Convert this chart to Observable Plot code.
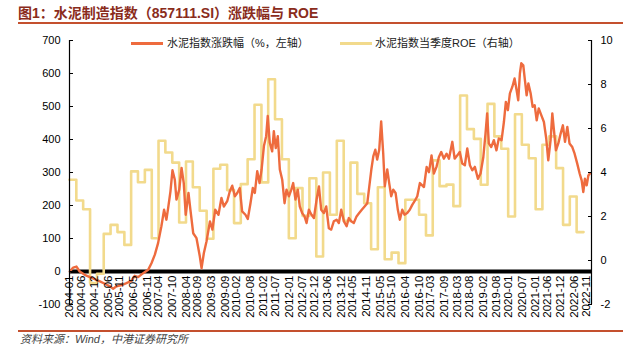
<!DOCTYPE html>
<html>
<head>
<meta charset="utf-8">
<script src="https://cdn.jsdelivr.net/npm/d3@7"></script>
<script src="https://cdn.jsdelivr.net/npm/@observablehq/plot@0.6"></script>
<style>
  body { margin: 0; background: #fff; }
  #wrap { position: relative; width: 629px; height: 354px; overflow: hidden;
          font-family: "Liberation Sans", "Noto Sans CJK SC", sans-serif; }
  #wrap svg { position: absolute; left: 0; top: 0; }
  .title { position: absolute; left: 18px; top: 4px; font-size: 14px; font-weight: bold;
           color: #8a2c1c; white-space: nowrap; line-height: 18px; }
  .rule { position: absolute; left: 18px; width: 605px; height: 1.5px; background: #c4502e; }
  .source { position: absolute; left: 20px; top: 332px; font-size: 11px; font-style: italic;
            color: #444; white-space: nowrap; line-height: 14px; }
  .legend { position: absolute; top: 36px; font-size: 11px; color: #222; white-space: nowrap; line-height: 14px; }
  .sw { position: absolute; height: 3px; width: 32px; }
</style>
</head>
<body>
<div id="wrap">
  <div class="title">图1：水泥制造指数（857111.SI）涨跌幅与 ROE</div>
  <div class="rule" style="top:22px"></div>
  <div class="rule" style="top:330px"></div>
  <div class="source">资料来源：Wind，中港证券研究所</div>
</div>
<script>
// x-axis tick labels (category labels of the original chart)
const tickLabels = ["2004-01","2004-06","2004-12","2005-06","2005-11","2006-05","2006-11","2007-04","2007-10","2008-04","2008-09","2009-03","2009-09","2010-02","2010-08","2011-02","2011-07","2012-01","2012-07","2012-12","2013-06","2013-12","2014-05","2014-11","2015-05","2015-10","2016-04","2016-10","2017-03","2017-09","2018-03","2018-08","2019-02","2019-08","2020-01","2020-07","2021-01","2021-06","2021-12","2022-06","2022-11"];

// left axis ticks (%) and right axis ticks (ROE)
const leftTicks = [-100, 0, 100, 200, 300, 400, 500, 600, 700];
const rightTicks = [-2, 0, 2, 4, 6, 8, 10];

// series names
const seriesNames = ["水泥指数涨跌幅（%，左轴）", "水泥指数当季度ROE（右轴）"];

// cement index cumulative change, % (left axis)
const cementChange = [
["2004-01-05",0],["2004-02-19",12],["2004-04-03",15],["2004-05-16",0],["2004-07-22",-10],["2004-09-28",-17],["2004-12-03",-23],
["2005-02-09",-30],["2005-04-15",-37],["2005-06-20",-45],["2005-08-05",-52],["2005-09-18",-45],["2005-11-24",-41],
["2006-01-29",-35],["2006-04-05",-28],["2006-05-18",-13],["2006-07-03",-17],["2006-09-09",-5],["2006-11-14",5],["2006-12-28",25],
["2007-02-11",51],["2007-03-26",86],["2007-05-09",137],["2007-06-14",187],["2007-07-15",157],["2007-08-07",192],["2007-09-07",243],["2007-10-04",307],["2007-11-04",278],["2007-11-26",218],
["2008-01-02",248],["2008-02-02",314],["2008-03-02",268],["2008-03-28",172],["2008-05-04",238],["2008-05-30",187],["2008-07-06",116],["2008-08-19",101],["2008-10-02",46],["2008-10-25",10],["2008-11-25",56],["2008-12-30",91],
["2009-02-14",152],["2009-03-19",127],["2009-04-25",187],["2009-06-08",172],["2009-07-17",223],["2009-08-18",197],["2009-10-02",213],["2009-11-06",243],["2009-12-08",260],
["2010-01-12",228],["2010-02-13",238],["2010-03-18",253],["2010-04-19",182],["2010-06-02",172],["2010-07-03",159],["2010-08-08",207],["2010-09-08",253],["2010-10-05",238],["2010-11-06",304],["2010-12-07",268],
["2011-01-03",309],["2011-02-03",380],["2011-03-05",410],["2011-03-26",471],["2011-04-22",390],["2011-05-24",364],["2011-06-15",425],["2011-07-11",374],["2011-08-07",410],["2011-09-03",309],["2011-10-05",278],["2011-11-05",207],["2011-12-01",248],
["2012-01-02",228],["2012-02-03",248],["2012-02-28",268],["2012-03-29",218],["2012-04-29",248],["2012-05-26",197],["2012-06-27",177],["2012-07-28",167],["2012-08-24",147],["2012-09-24",187],["2012-10-29",172],["2012-11-30",162],
["2013-01-05",218],["2013-02-05",258],["2013-03-07",187],["2013-04-11",177],["2013-05-13",197],["2013-06-17",131],["2013-07-18",127],["2013-08-22",152],["2013-09-28",157],["2013-10-28",147],["2013-11-29",187],
["2014-01-04",152],["2014-02-09",137],["2014-03-10",162],["2014-04-11",152],["2014-05-15",147],["2014-06-21",167],["2014-07-26",177],["2014-08-30",187],["2014-10-06",197],["2014-11-11",207],["2014-12-08",258],
["2015-01-04",309],["2015-01-30",349],["2015-02-26",369],["2015-03-23",339],["2015-04-19",369],["2015-05-15",455],["2015-06-11",359],["2015-07-02",258],["2015-08-04",309],["2015-08-30",268],["2015-09-26",228],["2015-10-23",248],["2015-11-23",238],["2015-12-23",187],
["2016-01-19",157],["2016-02-20",187],["2016-03-21",172],["2016-04-26",177],["2016-05-30",187],["2016-07-02",202],["2016-08-02",213],["2016-09-07",228],["2016-10-12",268],["2016-12-05",256],
["2017-01-10",317],["2017-02-10",301],["2017-03-16",352],["2017-04-16",297],["2017-05-21",317],["2017-06-22",347],["2017-07-23",362],["2017-08-27",342],["2017-10-03",357],["2017-11-03",342],["2017-12-18",393],
["2018-01-18",342],["2018-02-23",352],["2018-03-27",362],["2018-04-29",327],["2018-06-03",322],["2018-07-05",373],["2018-08-09",322],["2018-09-10",307],["2018-10-14",317],["2018-11-24",281],["2018-12-29",297],
["2019-02-04",347],["2019-03-05",418],["2019-03-27",479],["2019-04-18",388],["2019-05-20",377],["2019-06-24",398],["2019-07-29",367],["2019-08-29",403],["2019-10-05",398],["2019-11-05",453],["2019-12-01",514],["2019-12-28",489],
["2020-01-24",540],["2020-02-26",560],["2020-03-26",585],["2020-04-22",550],["2020-05-14",519],["2020-06-05",600],["2020-06-24",631],["2020-07-20",625],["2020-08-11",580],["2020-09-03",534],["2020-09-26",570],["2020-10-26",540],["2020-11-22",499],["2020-12-19",504],
["2021-01-15",458],["2021-02-11",494],["2021-03-17",474],["2021-04-21",453],["2021-05-22",403],["2021-06-18",337],["2021-07-19",398],["2021-08-11",479],["2021-09-02",428],["2021-09-28",367],["2021-10-30",388],["2021-11-30",418],["2021-12-30",443],
["2022-01-27",393],["2022-02-27",438],["2022-03-28",388],["2022-05-04",377],["2022-06-04",357],["2022-07-09",327],["2022-08-10",297],["2022-09-06",276],["2022-09-28",241],["2022-10-19",281],["2022-11-12",261],["2022-12-04",291],["2022-12-25",297]
];

// quarterly ROE, % (right axis), from 2004Q1 to 2022Q3
const roeStart = "2004-01-01";
const roeValues = [3.67,2.73,2.33,-1.03,-0.6,1.21,1.62,1.29,0.71,4.05,3.56,4.12,1.01,5.44,4.91,4.45,1.73,4.5,3.33,2.26,0.99,4.17,4.35,3.2,1.7,3.47,4.6,7.08,3.55,8.24,6.42,4.6,1.01,3.29,2.03,3.74,0.18,4.0,2.08,5.44,1.8,4.45,3.03,2.6,0.51,3.33,0.06,0.36,-0.12,2.76,2.76,2.08,1.14,4.55,3.38,3.45,2.47,7.5,5.97,5.53,3.44,7.12,5.64,5.08,2.0,6.65,5.26,4.65,2.33,5.26,5.64,4.2,1.62,2.91,1.29];

// axis domains
const leftDomain = [-100, 700];
const rightDomain = [-2, 10];
const xStart = "2004-01-01", xEnd = "2023-01-15";

const colors = ["#ee6b3e", "#f2da8c"];

const parseDay = d3.utcParse("%Y-%m-%d");
const parseMonth = d3.utcParse("%Y-%m");
// map right-axis values onto the left scale
const toLeft = r => leftDomain[0] + (r - rightDomain[0]) * (leftDomain[1] - leftDomain[0]) / (rightDomain[1] - rightDomain[0]);
const fromLeft = v => rightDomain[0] + (v - leftDomain[0]) * (rightDomain[1] - rightDomain[0]) / (leftDomain[1] - leftDomain[0]);

const ret = cementChange.map(([d, v]) => ({date: parseDay(d), value: v}));
const q0 = parseDay(roeStart);
const roe = roeValues.map((v, i) => ({date: d3.utcMonth.offset(q0, 3 * i), value: v}));
roe.push({date: d3.utcMonth.offset(q0, 3 * roeValues.length), value: roeValues[roeValues.length - 1]});
const xticks = tickLabels.map(t => ({date: parseMonth(t), label: t}));
const xDomain = [parseDay(xStart), parseDay(xEnd)];

const chart = Plot.plot({
  width: 629,
  height: 354,
  marginLeft: 69,
  marginRight: 38,
  marginTop: 40,
  marginBottom: 50,
  x: {type: "utc", domain: xDomain, axis: null},
  y: {domain: leftDomain, label: null},
  style: {fontFamily: "Liberation Sans, Noto Sans CJK SC, sans-serif", color: "#000", background: "transparent"},
  marks: [
    Plot.ruleY([0], {stroke: "#000", strokeWidth: 4}),
    Plot.line(roe, {x: "date", y: d => toLeft(d.value), curve: "step-after", stroke: colors[1], strokeWidth: 2.6}),
    Plot.line(ret, {x: "date", y: "value", stroke: colors[0], strokeWidth: 2.4, strokeLinejoin: "round"}),
    Plot.ruleX([xDomain[0]], {y1: leftDomain[0], y2: leftDomain[1], stroke: "#000", strokeWidth: 1.2}),
    Plot.ruleX([xDomain[1]], {y1: leftDomain[0], y2: leftDomain[1], stroke: "#000", strokeWidth: 1.2}),
    Plot.axisY(leftTicks, {anchor: "left", label: null, tickSize: 4, insetLeft: 4, tickPadding: 9, fontSize: 11, tickFormat: d => String(d)}),
    Plot.axisY(rightTicks.map(toLeft), {anchor: "right", label: null, tickSize: 4, insetRight: 4, tickPadding: 9, fontSize: 11, tickFormat: v => String(Math.round(fromLeft(v)))}),
    Plot.text(xticks, {x: "date", y: () => 0, text: "label", rotate: -90, textAnchor: "end", lineAnchor: "middle", dy: 4, fontSize: 11.5, fill: "#000"})
  ]
});
const wrap = document.getElementById("wrap");
wrap.insertBefore(chart, wrap.firstChild);

// legend
const legendItems = [
  {sw: 131, tx: 167},
  {sw: 340, tx: 375}
];
legendItems.forEach((it, i) => {
  const s = document.createElement("div");
  s.className = "sw";
  s.style.left = it.sw + "px";
  s.style.top = "42px";
  s.style.background = colors[i];
  wrap.appendChild(s);
  const t = document.createElement("div");
  t.className = "legend";
  t.style.left = it.tx + "px";
  t.textContent = seriesNames[i];
  wrap.appendChild(t);
});
</script>
</body>
</html>
